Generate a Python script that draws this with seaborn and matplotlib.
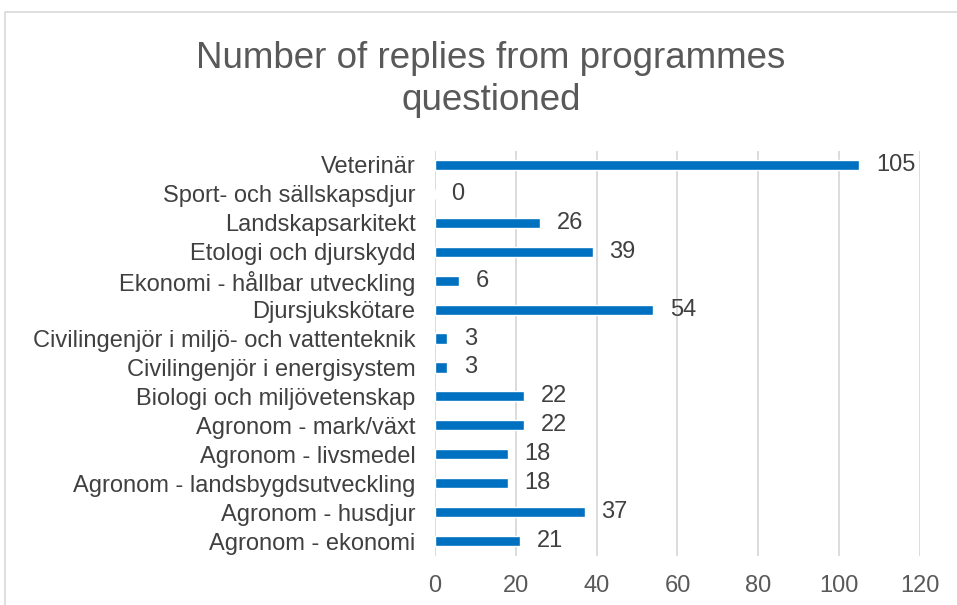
import matplotlib
matplotlib.use("Agg")
import matplotlib.pyplot as plt
import seaborn as sns
import pandas as pd
from matplotlib.patches import Rectangle

programmes = [
    "Veterinär",
    "Sport- och sällskapsdjur",
    "Landskapsarkitekt",
    "Etologi och djurskydd",
    "Ekonomi - hållbar utveckling",
    "Djursjukskötare",
    "Civilingenjör i miljö- och vattenteknik",
    "Civilingenjör i energisystem",
    "Biologi och miljövetenskap",
    "Agronom - mark/växt",
    "Agronom - livsmedel",
    "Agronom - landsbygdsutveckling",
    "Agronom - husdjur",
    "Agronom - ekonomi",
]
replies = [105, 0, 26, 39, 6, 54, 3, 3, 22, 22, 18, 18, 37, 21]
x_ticks = [0, 20, 40, 60, 80, 100, 120]

df = pd.DataFrame({"programme": programmes, "replies": replies})

sns.set_theme(style="white")
plt.rcParams["font.family"] = ["Liberation Sans", "DejaVu Sans"]

fig = plt.figure(figsize=(9.57, 6.05), dpi=100)
ax = fig.add_axes([0.4545, 0.0818, 0.5068, 0.6694])

sns.barplot(data=df, y="programme", x="replies", orient="h",
            color="#0070C0", saturation=1, width=0.35, ax=ax)

ax.set_xlim(x_ticks[0], x_ticks[-1])
ax.set_xticks(x_ticks)
ax.set_xlabel("")
ax.set_ylabel("")
ax.grid(axis="x", color="#D9D9D9", linewidth=1.3)
ax.set_axisbelow(True)
for s in ax.spines.values():
    s.set_visible(False)
ax.tick_params(axis="x", length=0, pad=14, labelsize=17, labelcolor="#595959")
ax.tick_params(axis="y", length=0, pad=14, labelsize=17, labelcolor="#404040")

ax.bar_label(ax.containers[0], labels=[str(v) for v in replies],
             padding=12, fontsize=17, color="#404040")

fig.text(0.513, 0.868, "Number of replies from programmes\nquestioned",
         ha="center", va="center", fontsize=26.5, color="#595959",
         linespacing=1.25)

# chart-area frame
fig.patches.append(Rectangle((5 / 957, -0.1), 1.2, 1 - 12 / 605 + 0.1,
                             transform=fig.transFigure, fill=False,
                             edgecolor="#D9D9D9", linewidth=1.2))

fig.savefig("out.png", dpi=100)
